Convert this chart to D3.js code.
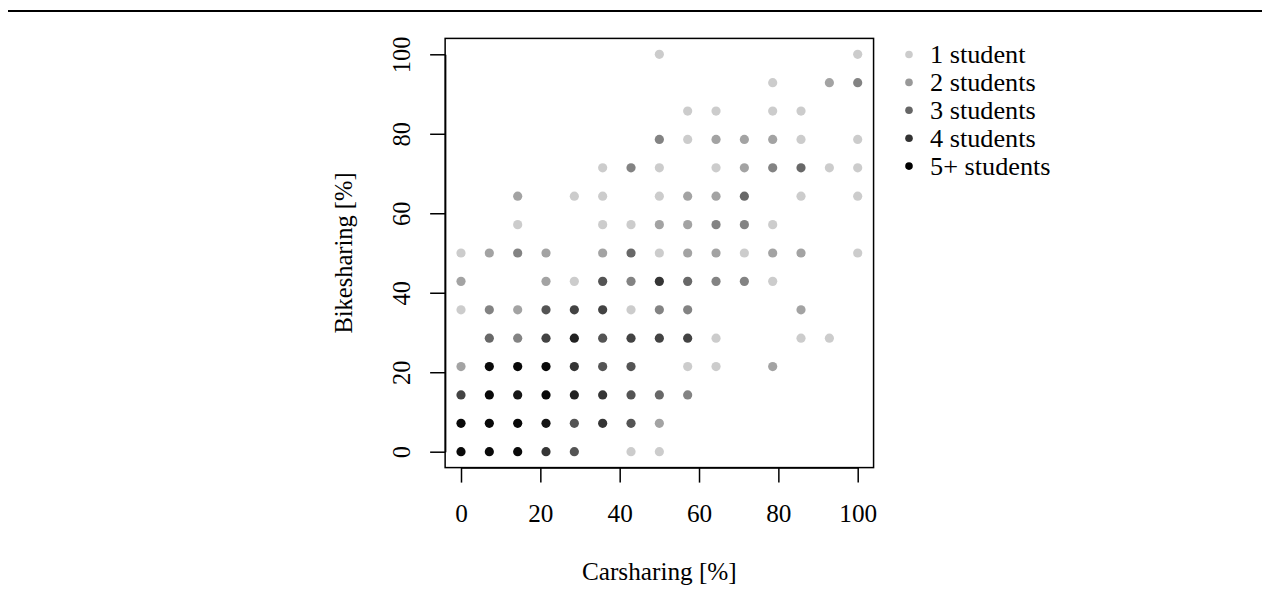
<!DOCTYPE html>
<html>
<head>
<meta charset="utf-8">
<script src="https://cdn.jsdelivr.net/npm/d3@7"></script>
<style>
    body { margin: 0; background: #fff; }
    svg text { font-family: "Liberation Serif", "Times New Roman", serif; fill: #000; }
</style>
</head>
<body>
<svg id="chart" width="1270" height="592"></svg>
<script>
// share levels used on both axes (percent)
const shares = [0, 7.14, 14.29, 21.43, 28.57, 35.71, 42.86, 50, 57.14, 64.29, 71.43, 78.57, 85.71, 92.86, 100];
const xTicks = [0, 20, 40, 60, 80, 100];
const yTicks = [0, 20, 40, 60, 80, 100];
const legendLabels = ["1 student", "2 students", "3 students", "4 students", "5+ students"];
const legendAlpha = [0.2, 0.4, 0.6, 0.8, 1.0];
// number of overplotted students per cell: rows = bikesharing level (bottom to top), cols = carsharing level
const counts = [
    [15, 15, 15, 7, 5, 0, 1, 1, 0, 0, 0, 0, 0, 0, 0],
    [15, 15, 15, 11, 5, 7, 5, 2, 0, 0, 0, 0, 0, 0, 0],
    [6, 15, 11, 15, 9, 7, 5, 4, 3, 0, 0, 0, 0, 0, 0],
    [2, 15, 15, 15, 7, 5, 5, 0, 1, 1, 0, 2, 0, 0, 0],
    [0, 4, 3, 6, 9, 5, 6, 6, 6, 1, 0, 0, 1, 1, 0],
    [1, 3, 2, 5, 6, 6, 1, 3, 3, 0, 0, 0, 2, 0, 0],
    [2, 0, 0, 2, 1, 5, 3, 7, 4, 3, 3, 1, 0, 0, 0],
    [1, 2, 3, 2, 0, 2, 4, 1, 2, 2, 1, 2, 2, 0, 1],
    [0, 0, 1, 0, 0, 1, 1, 2, 2, 3, 3, 1, 0, 0, 0],
    [0, 0, 2, 0, 1, 1, 0, 1, 2, 2, 4, 0, 1, 0, 1],
    [0, 0, 0, 0, 0, 1, 3, 1, 0, 1, 2, 3, 4, 1, 1],
    [0, 0, 0, 0, 0, 0, 0, 3, 1, 2, 2, 2, 1, 0, 1],
    [0, 0, 0, 0, 0, 0, 0, 0, 1, 1, 0, 1, 1, 0, 0],
    [0, 0, 0, 0, 0, 0, 0, 0, 0, 0, 0, 1, 0, 2, 3],
    [0, 0, 0, 0, 0, 0, 0, 1, 0, 0, 0, 0, 0, 0, 1]
];

const svg = d3.select("#chart");
const fontSize = 24.5;
const legendFont = 25.5;
const stretch = 1.03;   // text looks a touch wide in the original

// top rule
svg.append("line")
    .attr("x1", 8).attr("x2", 1262)
    .attr("y1", 11).attr("y2", 11)
    .attr("stroke", "#000").attr("stroke-width", 2.2);

const x = d3.scaleLinear().domain([0, 100]).range([461, 857.7]);
const y = d3.scaleLinear().domain([0, 100]).range([451.7, 54.3]);

// flatten the table into points
const points = [];
counts.forEach((row, j) => {
    row.forEach((n, i) => {
        if (n > 0) points.push({ car: shares[i], bike: shares[j], n: n });
    });
});

svg.append("g")
    .selectAll("circle")
    .data(points)
    .enter()
    .append("circle")
    .attr("cx", d => x(d.car))
    .attr("cy", d => y(d.bike))
    .attr("r", 4.6)
    .attr("fill", "#000")
    .attr("fill-opacity", d => 1 - Math.pow(0.8, d.n));

// plot box
svg.append("rect")
    .attr("x", x(-4)).attr("y", y(104))
    .attr("width", x(104) - x(-4))
    .attr("height", y(-4) - y(104))
    .attr("fill", "none")
    .attr("stroke", "#000")
    .attr("stroke-width", 1.5);

// x axis
const xAxis = svg.append("g")
    .attr("transform", `translate(0, ${y(-4)})`)
    .call(d3.axisBottom(x).tickValues(xTicks).tickSize(15).tickSizeOuter(0));
xAxis.select(".domain").attr("stroke-width", 1.5);
xAxis.selectAll(".tick line").attr("stroke-width", 1.5);
xAxis.selectAll("text")
    .attr("font-size", fontSize)
    .attr("font-family", "Liberation Serif")
    .attr("fill", "#000")
    .attr("y", 46)
    .attr("dy", "0.33em")
    .attr("transform", `scale(${stretch},1)`);

// y axis
const yAxis = svg.append("g")
    .attr("transform", `translate(${x(-4)}, 0)`)
    .call(d3.axisLeft(y).tickValues(yTicks).tickSize(15).tickSizeOuter(0));
yAxis.select(".domain").attr("stroke-width", 1.5);
yAxis.selectAll(".tick line").attr("stroke-width", 1.5);
yAxis.selectAll("text")
    .attr("font-size", fontSize)
    .attr("font-family", "Liberation Serif")
    .attr("fill", "#000")
    .attr("text-anchor", "middle")
    .attr("x", 0)
    .attr("y", -43.3 / stretch)
    .attr("dy", "0.33em")
    .attr("transform", `scale(${stretch},1) rotate(-90)`);

// axis titles
svg.append("text")
    .attr("transform", `translate(${(x(-4) + x(104)) / 2}, 572) scale(${stretch},1)`)
    .attr("text-anchor", "middle")
    .attr("dy", "0.33em")
    .attr("font-size", fontSize)
    .text("Carsharing [%]");

svg.append("text")
    .attr("transform", `translate(344, ${(y(-4) + y(104)) / 2}) scale(${stretch},1) rotate(-90)`)
    .attr("text-anchor", "middle")
    .attr("dy", "0.33em")
    .attr("font-size", fontSize)
    .text("Bikesharing [%]");

// legend
const legend = svg.append("g");
const legendRow = 27.9;
legend.selectAll("circle")
    .data(legendLabels)
    .enter()
    .append("circle")
    .attr("cx", 909)
    .attr("cy", (d, i) => 54.5 + i * legendRow)
    .attr("r", 3.8)
    .attr("fill", "#000")
    .attr("fill-opacity", (d, i) => legendAlpha[i]);
legend.selectAll("text")
    .data(legendLabels)
    .enter()
    .append("text")
    .attr("transform", (d, i) => `translate(930, ${54.5 + i * legendRow}) scale(${stretch},1)`)
    .attr("dy", "0.33em")
    .attr("font-size", legendFont)
    .text(d => d);
</script>
</body>
</html>
